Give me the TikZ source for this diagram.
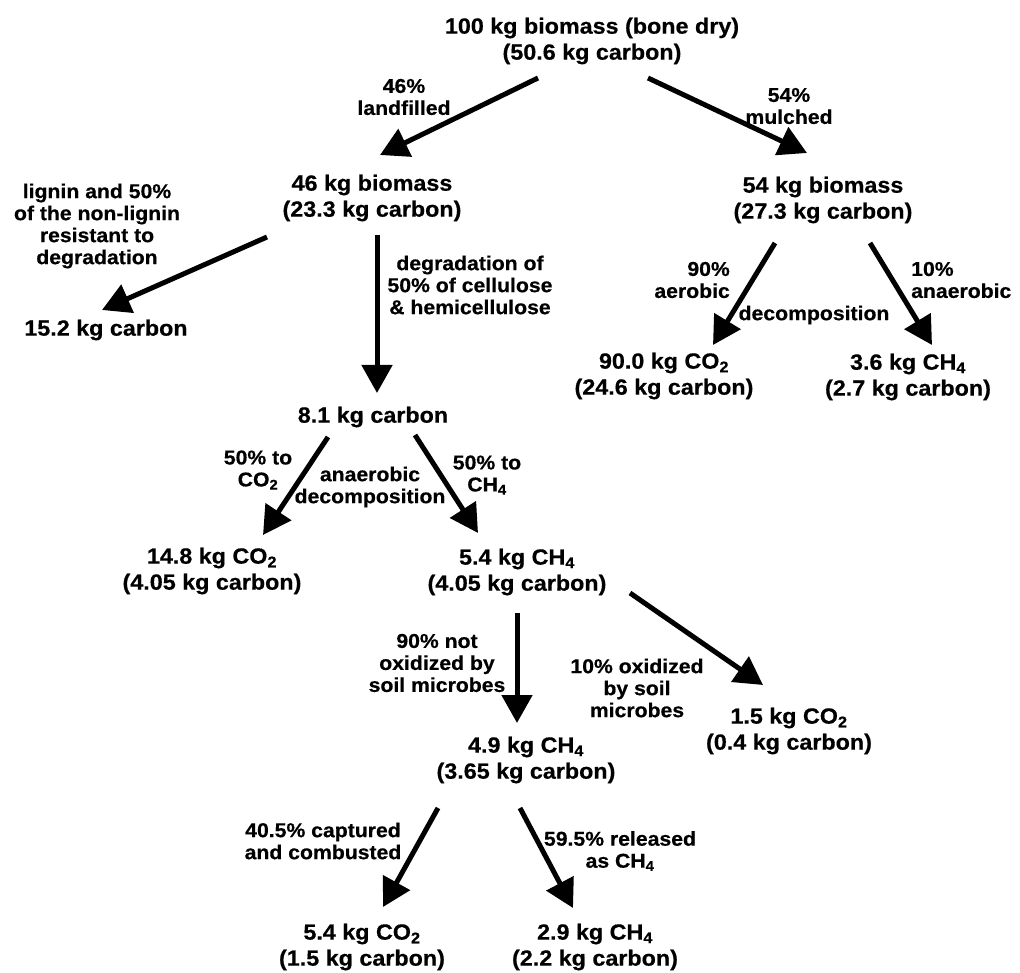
\documentclass[tikz,border=0pt]{standalone}
\usepackage{fontspec}
\setmainfont{Liberation Sans}
\newfontfamily\diagfont{Liberation Sans Bold}[FakeStretch=1.06, FakeBold=0.5]
\usetikzlibrary{arrows.meta}
\usetikzlibrary{positioning}

\begin{document}
\begin{tikzpicture}[x=1pt, y=-1pt, >={Triangle[length=28pt,width=30pt]},
box/.style={align=center, inner sep=0pt, font=\diagfont\fontsize{22}{26}\selectfont},
lbl/.style={align=center, inner sep=0pt, font=\diagfont\fontsize{20}{22}\selectfont},
flow/.style={->, line width=5pt}]

\fill[white] (0,0) rectangle (1020,973);
\useasboundingbox (0,0) rectangle (1020,973);

% amounts
\node [box] (top) at (592,41) {100 kg biomass (bone dry)\\(50.6 kg carbon)};
\node [box] (land) at (372,198) {46 kg biomass\\(23.3 kg carbon)};
\node [box] (mulch) at (823,200) {54 kg biomass\\(27.3 kg carbon)};
\node [box] (resist) at (106,330) {15.2 kg carbon};
\node [box] (degr) at (373,417) {8.1 kg carbon};
\node [box] (mco2) at (664,376) {90.0 kg CO\textsubscript{2}\\(24.6 kg carbon)};
\node [box] (mch4) at (908,377) {3.6 kg CH\textsubscript{4}\\(2.7 kg carbon)};
\node [box] (aco2) at (212,571) {14.8 kg CO\textsubscript{2}\\(4.05 kg carbon)};
\node [box] (ach4) at (517,572) {5.4 kg CH\textsubscript{4}\\(4.05 kg carbon)};
\node [box] (ox) at (789,731) {1.5 kg CO\textsubscript{2}\\(0.4 kg carbon)};
\node [box] (nox) at (526,760) {4.9 kg CH\textsubscript{4}\\(3.65 kg carbon)};
\node [box] (burn) at (362,947) {5.4 kg CO\textsubscript{2}\\(1.5 kg carbon)};
\node [box] (rel) at (595,947) {2.9 kg CH\textsubscript{4}\\(2.2 kg carbon)};

% texts on the arrows
\node [lbl] (l46) at (404,97) {46\%\\landfilled};
\node [lbl] (l54) at (789,106) {54\%\\mulched};
\node [lbl] (lres) at (97,226) {lignin and 50\%\\of the non-lignin\\resistant to\\degradation};
\node [lbl] (ldeg) at (470,285) {degradation of\\50\% of cellulose\\\& hemicellulose};
\node [lbl, anchor=east, align=right] (laer) at (730,280) {90\%\\aerobic};
\node [lbl] (ldec) at (814,315) {decomposition};
\node [lbl, anchor=west, align=left] (lana) at (911,280) {10\%\\anaerobic};
\node [lbl] (lco2) at (258,470) {50\% to\\CO\textsubscript{2}};
\node [lbl] (lanae) at (370,487) {anaerobic\\decomposition};
\node [lbl] (lch4) at (487,475) {50\% to\\CH\textsubscript{4}};
\node [lbl] (lnox) at (437,663) {90\% not\\oxidized by\\soil microbes};
\node [lbl] (lox) at (637,688) {10\% oxidized\\by soil\\microbes};
\node [lbl] (lcap) at (323,841) {40.5\% captured\\and combusted};
\node [lbl] (lrel) at (620,851) {59.5\% released\\as CH\textsubscript{4}};

% arrows
\draw [flow] ([shift={(-54,37)}]top.center) -- ([shift={(8,-43)}]land.center);
\draw [flow] ([shift={(56,37)}]top.center) -- ([shift={(-16,-47)}]mulch.center);
\draw [flow] ([shift={(-105,39)}]land.center) -- ([shift={(-4,-20)}]resist.center);
\draw [flow] ([shift={(5,37)}]land.center) -- ([shift={(4,-24)}]degr.center);
\draw [flow] ([shift={(-48,43)}]mulch.center) -- ([shift={(49,-31)}]mco2.center);
\draw [flow] ([shift={(47,43)}]mulch.center) -- ([shift={(24,-32)}]mch4.center);
\draw [flow] ([shift={(-45,20)}]degr.center) -- ([shift={(51,-36)}]aco2.center);
\draw [flow] ([shift={(42,18)}]degr.center) -- ([shift={(-39,-39)}]ach4.center);
\draw [flow] ([shift={(0,41)}]ach4.center) -- ([shift={(-9,-37)}]nox.center);
\draw [flow] ([shift={(113,21)}]ach4.center) -- ([shift={(-26,-46)}]ox.center);
\draw [flow] ([shift={(-88,48)}]nox.center) -- ([shift={(21,-40)}]burn.center);
\draw [flow] ([shift={(-6,48)}]nox.center) -- ([shift={(-22,-39)}]rel.center);

\end{tikzpicture}
\end{document}
